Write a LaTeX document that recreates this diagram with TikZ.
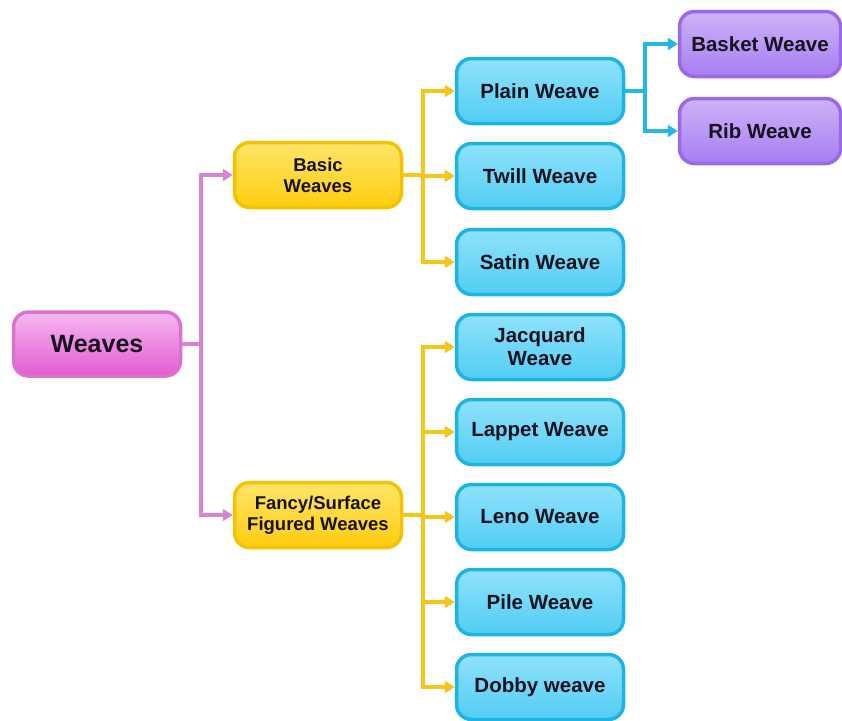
\documentclass[tikz,border=0pt]{standalone}
\usepackage{fontspec}
\setmainfont{Liberation Sans}
\usetikzlibrary{arrows.meta}
\definecolor{pinkline}{HTML}{D982D6}
\definecolor{yelline}{HTML}{F5C518}
\definecolor{cyanline}{HTML}{25B5E8}
\definecolor{txt}{HTML}{15121E}
\definecolor{pinkB}{HTML}{DA72D0}
\definecolor{pinkT}{HTML}{F6B8F0}
\definecolor{pinkD}{HTML}{E25CD3}
\definecolor{yelB}{HTML}{F3C300}
\definecolor{yelT}{HTML}{FFE56A}
\definecolor{yelD}{HTML}{FFCC10}
\definecolor{cyB}{HTML}{1DB3E3}
\definecolor{cyT}{HTML}{8FE2FB}
\definecolor{cyD}{HTML}{52CDF3}
\definecolor{puB}{HTML}{9A68E8}
\definecolor{puT}{HTML}{CDB2F8}
\definecolor{puD}{HTML}{A77EF0}
\tikzset{
  box/.style={rounded corners=15pt, line width=3.5pt, align=center, text=txt,
    font=\bfseries, inner sep=2pt},
  rootbox/.style={box, draw=pinkB, top color=pinkT, bottom color=pinkD,
    minimum width=167pt, minimum height=64pt, font=\bfseries\fontsize{25}{28}\selectfont},
  midbox/.style={box, draw=yelB, top color=yelT, bottom color=yelD,
    minimum width=167pt, minimum height=65pt, font=\bfseries\fontsize{18.5}{21}\selectfont},
  leafbox/.style={box, draw=cyB, top color=cyT, bottom color=cyD,
    minimum width=167pt, minimum height=65pt, font=\bfseries\fontsize{20.5}{23}\selectfont},
  subbox/.style={box, draw=puB, top color=puT, bottom color=puD,
    minimum width=161pt, minimum height=65pt, font=\bfseries\fontsize{20.5}{23}\selectfont},
  conn/.style={line width=4pt},
  arr/.style={conn, -{Triangle[length=10pt,width=12pt]}},
}
\begin{document}
\begin{tikzpicture}[x=1pt,y=-1pt]
\useasboundingbox (0,0) rectangle (842,720);
% nodes
\node[rootbox] (weaves) at (97,344) {Weaves};
\node[midbox] (basic) at (318,175) {Basic\\Weaves};
\node[midbox] (fancy) at (318,515) {Fancy/Surface\\Figured Weaves};
\node[leafbox] (plain) at (540,91) {Plain Weave};
\node[leafbox] (twill) at (540,176) {Twill Weave};
\node[leafbox] (satin) at (540,262) {Satin Weave};
\node[leafbox] (jacq) at (540,347) {Jacquard\\Weave};
\node[leafbox] (lappet) at (540,432) {Lappet Weave};
\node[leafbox] (leno) at (540,517) {Leno Weave};
\node[leafbox] (pile) at (540,602) {Pile Weave};
\node[leafbox] (dobby) at (540,687) {Dobby weave};
\node[subbox] (basket) at (760,44) {Basket Weave};
\node[subbox] (rib) at (760,131) {Rib Weave};
% junction coordinates
\coordinate (pj) at (201,344);
\coordinate (bj) at (423,175);
\coordinate (fj) at (423,515);
\coordinate (cj) at (645,91);
% pink
\draw[conn,pinkline] (weaves.east) -- (pj);
\draw[arr,pinkline] (pj) |- (basic.west);
\draw[arr,pinkline] (pj) |- (fancy.west);
% yellow basic
\draw[conn,yelline] (basic.east) -- (bj);
\draw[arr,yelline] (bj) |- (plain.west);
\draw[arr,yelline] (bj) |- (twill.west);
\draw[arr,yelline] (bj) |- (satin.west);
% yellow fancy
\draw[conn,yelline] (fancy.east) -- (fj);
\draw[arr,yelline] (fj) |- (jacq.west);
\draw[arr,yelline] (fj) |- (lappet.west);
\draw[arr,yelline] (fj) |- (leno.west);
\draw[arr,yelline] (fj) |- (pile.west);
\draw[arr,yelline] (fj) |- (dobby.west);
% cyan
\draw[conn,cyanline] (plain.east) -- (cj);
\draw[arr,cyanline] (cj) |- (basket.west);
\draw[arr,cyanline] (cj) |- (rib.west);
\end{tikzpicture}
\end{document}
